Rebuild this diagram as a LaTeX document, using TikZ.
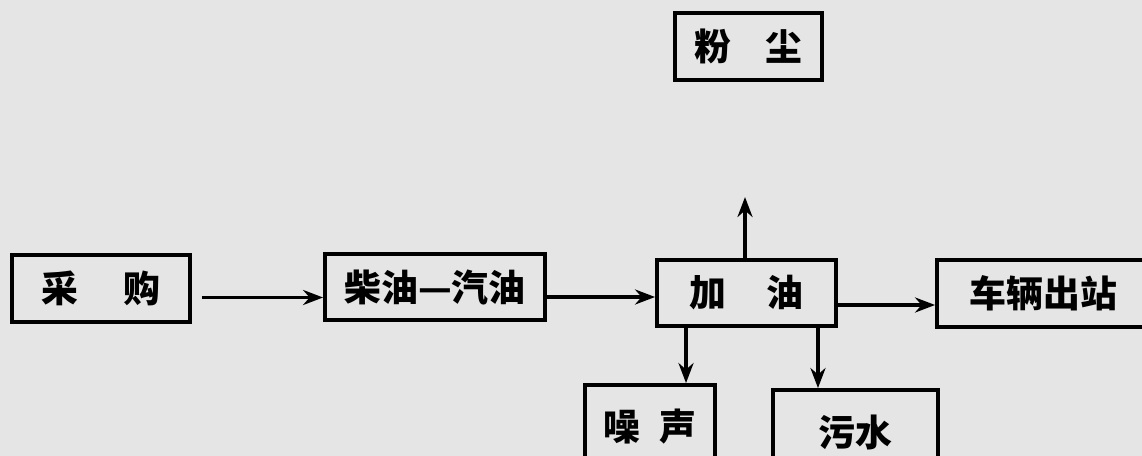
\documentclass[tikz,border=0pt]{standalone}
\usepackage{fontspec}
\newfontfamily\cjk{Noto Sans CJK SC}
\usetikzlibrary{arrows.meta,positioning}

\begin{document}
\begin{tikzpicture}[x=0.02cm,y=-0.02cm,
  box/.style={draw,line width=2.2pt,inner sep=0pt,font=\cjk\bfseries\fontsize{21}{24}\selectfont},
  arr/.style={-{Stealth[length=0.4cm,width=0.3cm]},line width=2pt}]
  \fill[black!10] (0,0) rectangle (1142,456);
  \clip (0,0) rectangle (1142,456);
  % main line
  \node[box,minimum width=3.56cm,minimum height=1.34cm] (buy) at (101,288.5) {采\hspace{0.9cm}购\hspace{0.3cm}};
  \node[box,minimum width=4.4cm,minimum height=1.32cm] (fuel) at (435,287) {柴油—汽油};
  \node[box,minimum width=3.58cm,minimum height=1.32cm] (fill) at (746.5,293) {加\hspace{0.8cm}油\hspace{0.35cm}};
  \node[box,minimum width=4.26cm,minimum height=1.34cm] (out) at (1043.5,293.5) {车辆出站\hspace{0.9cm}};
  % by-products
  \node[box,minimum width=2.94cm,minimum height=1.34cm] (dust) at (748.5,46.5) {粉\hspace{0.7cm}尘};
  \node[box,minimum width=2.6cm,minimum height=1.68cm] (noise) at (650,427) {噪\hspace{0.4cm}声};
  \node[box,minimum width=3.3cm,minimum height=1.68cm] (water) at (855.5,432) {污水\hspace{0.5cm}};
  \coordinate (up) at (745,197);

  \draw[arr,shorten <=0.2cm] ([yshift=-0.18cm]buy.east) -- ([yshift=-0.18cm]buy.east -| fuel.west);
  \draw[arr] ([yshift=-0.2cm]fuel.east) -- ([yshift=-0.2cm]fuel.east -| fill.west);
  \draw[arr] ([yshift=-0.24cm]fill.east) -- ([yshift=-0.24cm]fill.east -| out.west);
  \draw[arr] (fill.north -| up) -- (up);
  \draw[arr] ([xshift=-1.21cm]fill.south) -- ([xshift=-1.21cm]fill.south |- noise.north);
  \draw[arr] ([xshift=1.43cm]fill.south) -- ([xshift=1.43cm]fill.south |- water.north);
\end{tikzpicture}
\end{document}
